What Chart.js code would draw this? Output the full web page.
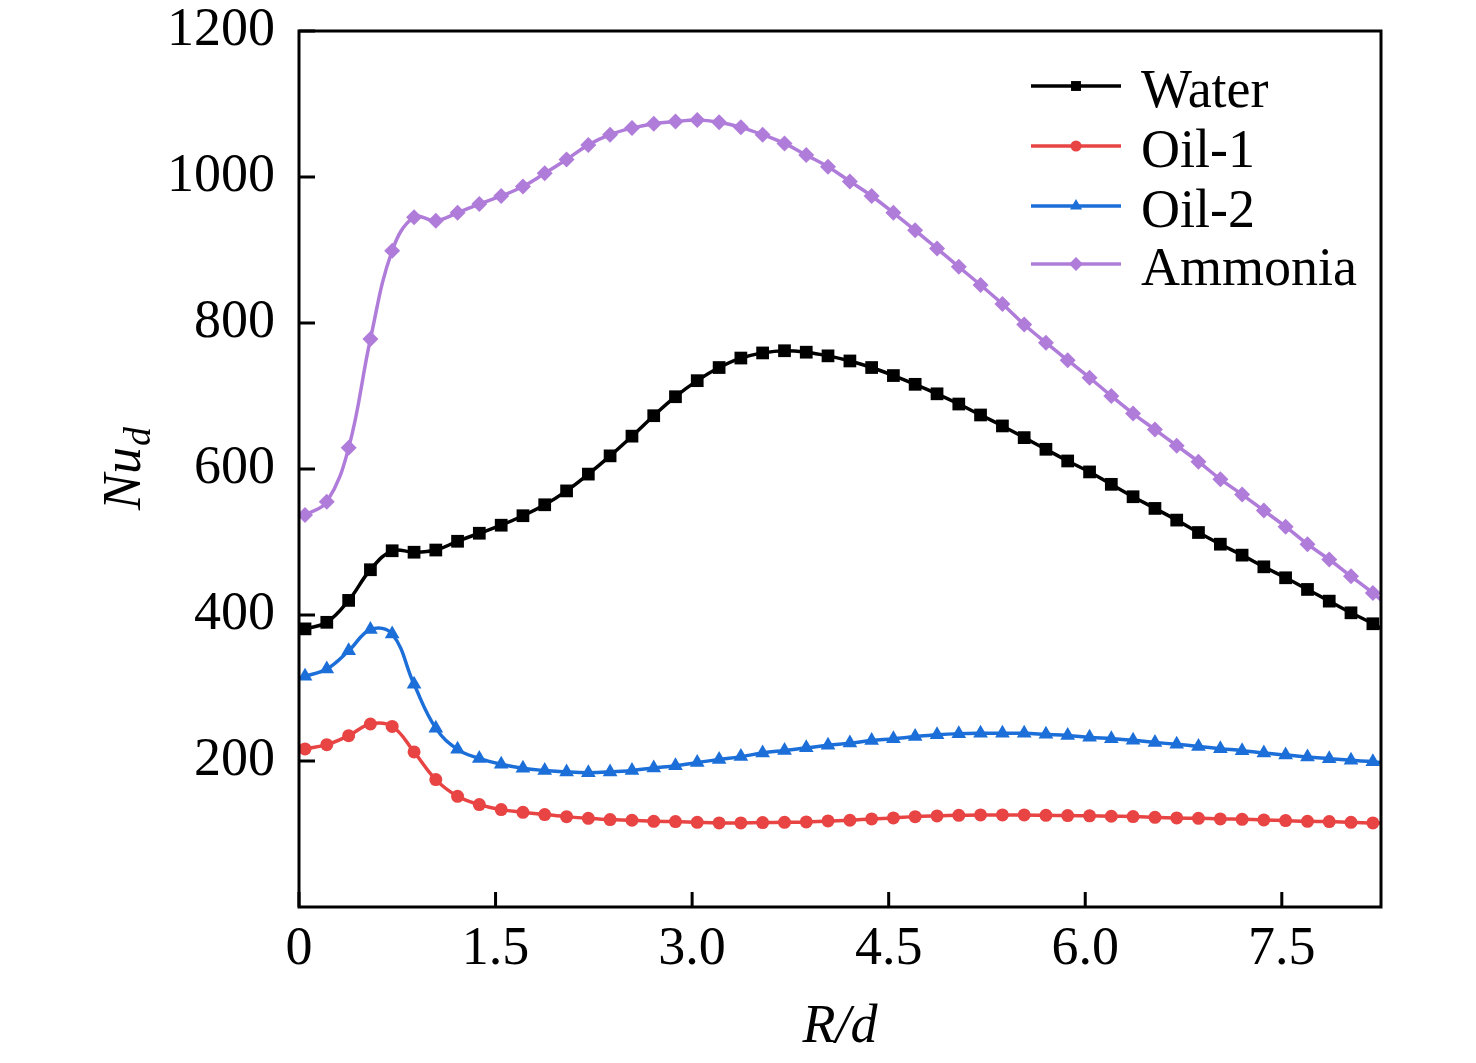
<!DOCTYPE html>
<html>
<head>
<meta charset="utf-8">
<title>Nu_d vs R/d</title>
<script src="https://cdn.jsdelivr.net/npm/chart.js@4.4.1/dist/chart.umd.min.js"></script>
<style>
  html, body { margin: 0; padding: 0; background: #fff; }
</style>
</head>
<body>
<canvas id="nusselt" width="1476" height="1063"></canvas>
<script>
// R/d positions of the markers (last one sits just past the axis and gets clipped)
var rd = [0.046, 0.212, 0.379, 0.545, 0.711, 0.878, 1.044, 1.210, 1.376, 1.543,
          1.709, 1.875, 2.042, 2.208, 2.374, 2.541, 2.707, 2.873, 3.039, 3.206,
          3.372, 3.538, 3.705, 3.871, 4.037, 4.204, 4.370, 4.536, 4.702, 4.869,
          5.035, 5.201, 5.368, 5.534, 5.700, 5.866, 6.033, 6.199, 6.365, 6.532,
          6.698, 6.864, 7.031, 7.197, 7.363, 7.529, 7.696, 7.862, 8.028, 8.195,
          8.361];

var water = [381, 390, 420, 462, 488, 486, 489, 501, 512, 523,
             536, 551, 570, 593, 618, 645, 673, 699, 721, 739,
             752, 759, 762, 760, 755, 748, 739, 728, 716, 703,
             689, 674, 659, 643, 627, 611, 596, 579, 562, 546,
             530, 513, 497, 482, 466, 451, 435, 419, 403, 388,
             370];

var oil1 = [216.5, 222.4, 234.7, 250.7, 247.4, 212.4, 174.5, 151.6, 140.3, 133.4,
            129.7, 126.6, 123.8, 121.5, 119.7, 118.8, 117.4, 117, 116, 115.2,
            115.2, 115.6, 116, 116.6, 117.9, 118.8, 120.7, 122, 123.8, 124.8,
            125.6, 126.1, 126.1, 126.1, 125.6, 125.2, 124.9, 124.3, 123.9, 122.9,
            122, 121.5, 120.7, 120.1, 119.3, 118.4, 117.4, 117, 116, 115.2,
            114.5];

var oil2 = [316, 326, 351, 380, 374, 305, 245, 216, 203.5, 195.5,
            190, 187, 185, 184, 185, 187, 190.5, 193.5, 198, 202,
            206, 211, 214.5, 218, 221.5, 224.5, 228, 230.5, 233.5, 236,
            237.5, 238, 238, 238, 236.5, 235, 232.5, 230.5, 228.3, 225.5,
            222.8, 220, 216.9, 214.2, 211, 208.3, 205.5, 203.2, 200.9, 199.1,
            196];

var ammonia = [537, 555, 629, 778, 899, 945, 940, 951, 963, 974,
               987, 1005, 1024, 1044, 1058, 1067, 1073, 1076, 1078, 1075,
               1068, 1058, 1046, 1030, 1014, 994, 974, 951, 927, 902,
               877, 852, 826, 798, 773, 749, 725, 700, 676, 654,
               632, 610, 586, 565, 543, 521, 497, 476, 453, 430,
               405];

var xTicks = [0, 1.5, 3.0, 4.5, 6.0, 7.5];
var yTicks = [200, 400, 600, 800, 1000, 1200];

var serif = "'Liberation Serif', 'Times New Roman', serif";

function pts(vals) {
	return vals.map(function(v, i) { return { x: rd[i], y: v }; });
}

var series = [
	{ label: 'Water',   vals: water,   color: '#000000', style: 'rect',     r: 9,   lr: 7 },
	{ label: 'Oil-1',   vals: oil1,    color: '#E84444', style: 'circle',   r: 6.5, lr: 5.5 },
	{ label: 'Oil-2',   vals: oil2,    color: '#1C6FD8', style: 'triangle', r: 8.5, lr: 7 },
	{ label: 'Ammonia', vals: ammonia, color: '#B07CDA', style: 'rectRot',  r: 8,   lr: 7 }
];

var datasets = series.map(function(s) {
	return {
		label: s.label,
		data: pts(s.vals),
		borderColor: s.color,
		backgroundColor: s.color,
		borderWidth: 3.5,
		pointStyle: s.style,
		pointRadius: s.r,
		pointBorderWidth: 0,
		pointBackgroundColor: s.color,
		tension: 0.4,
		clip: 1
	};
});

// frame, inward ticks, axis titles and the legend box
var decor = {
	id: 'decor',
	afterDraw: function(chart) {
		var ctx = chart.ctx;
		var a = chart.chartArea;
		var xs = chart.scales.x, ys = chart.scales.y;
		ctx.save();
		ctx.strokeStyle = '#000';
		ctx.lineWidth = 3;
		ctx.strokeRect(a.left, a.top, a.right - a.left, a.bottom - a.top);

		ctx.beginPath();
		yTicks.forEach(function(v) {
			var py = ys.getPixelForValue(v);
			ctx.moveTo(a.left, py);
			ctx.lineTo(a.left + 16, py);
		});
		xTicks.forEach(function(v) {
			var px = xs.getPixelForValue(v);
			ctx.moveTo(px, a.bottom);
			ctx.lineTo(px, a.bottom - 15);
		});
		ctx.stroke();

		// x title
		ctx.fillStyle = '#000';
		ctx.textBaseline = 'alphabetic';
		ctx.textAlign = 'center';
		ctx.font = 'italic 54px ' + serif;
		ctx.fillText('R/d', (a.left + a.right) / 2, 1042);

		// y title with subscript
		ctx.save();
		ctx.translate(140, (a.top + a.bottom) / 2);
		ctx.rotate(-Math.PI / 2);
		ctx.font = 'italic 54px ' + serif;
		var w1 = ctx.measureText('Nu').width;
		ctx.font = 'italic 38px ' + serif;
		var w2 = ctx.measureText('d').width;
		var x0 = -(w1 + w2) / 2;
		ctx.textAlign = 'left';
		ctx.font = 'italic 54px ' + serif;
		ctx.fillText('Nu', x0, 0);
		ctx.font = 'italic 38px ' + serif;
		ctx.fillText('d', x0 + w1 + 1, 10);
		ctx.restore();

		// legend
		var rowY = [86, 146, 206, 264];
		series.forEach(function(s, i) {
			var y = rowY[i];
			ctx.strokeStyle = s.color;
			ctx.lineWidth = 3.5;
			ctx.beginPath();
			ctx.moveTo(1031, y);
			ctx.lineTo(1121, y);
			ctx.stroke();
			ctx.fillStyle = s.color;
			Chart.helpers.drawPoint(ctx, { pointStyle: s.style, radius: s.lr, rotation: 0, borderWidth: 0 }, 1076, y);
			ctx.fillStyle = '#000';
			ctx.font = '54px ' + serif;
			ctx.textAlign = 'left';
			ctx.fillText(s.label, 1141, y + 21);
		});
		ctx.restore();
	}
};

var ctx = document.getElementById('nusselt');

var nuChart = new Chart(ctx, {
	type: 'line',
	data: { datasets: datasets },
	options: {
		responsive: false,
		animation: false,
		layout: { padding: { top: 31, right: 95, left: 0, bottom: 0 } },
		plugins: {
			legend: { display: false },
			tooltip: { enabled: false }
		},
		scales: {
			x: {
				type: 'linear',
				min: 0,
				max: 8.257,
				grid: { display: false },
				border: { display: false },
				afterBuildTicks: function(scale) {
					scale.ticks = xTicks.map(function(v) { return { value: v }; });
				},
				afterFit: function(scale) { scale.height = 156; },
				ticks: {
					padding: 8,
					color: '#000',
					maxRotation: 0,
					font: { family: serif, size: 54, lineHeight: 1 },
					callback: function(v) { return v === 0 ? '0' : v.toFixed(1); }
				}
			},
			y: {
				min: 0,
				max: 1200,
				grid: { display: false },
				border: { display: false },
				afterBuildTicks: function(scale) {
					scale.ticks = yTicks.map(function(v) { return { value: v }; });
				},
				afterFit: function(scale) {
					scale.width = 299;
					scale.paddingTop = 0;
					scale.paddingBottom = 0;
				},
				ticks: {
					padding: 16,
					color: '#000',
					font: { family: serif, size: 54, lineHeight: 1 },
					callback: function(v) { return String(v); }
				}
			}
		}
	},
	plugins: [decor]
});
</script>
</body>
</html>
